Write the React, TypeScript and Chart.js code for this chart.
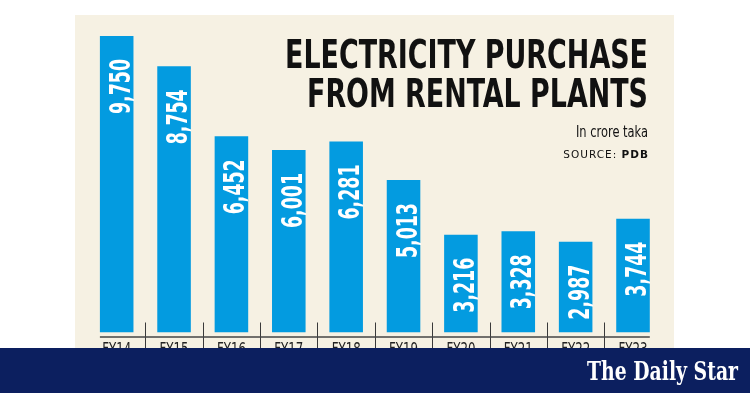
import React, { useEffect, useRef } from "react";
import { Chart, registerables } from "chart.js";

Chart.register(...registerables);

const categories = ["FY14", "FY15", "FY16", "FY17", "FY18", "FY19", "FY20", "FY21", "FY22", "FY23"];
const purchaseValues = [9750, 8754, 6452, 6001, 6281, 5013, 3216, 3328, 2987, 3744];
const titleLines = ["ELECTRICITY PURCHASE", "FROM RENTAL PLANTS"];
const unitText = "In crore taka";
const sourceLabel = "SOURCE: ";
const sourceName = "PDB";
const brandText = "The Daily Star";

const NARROW = '"Liberation Sans Narrow", "DejaVu Sans Condensed", "Roboto", sans-serif';

const decorPlugin = {
  id: "decor",
  beforeDraw(chart: any) {
    const ctx = chart.ctx;
    ctx.save();
    ctx.fillStyle = "#ffffff";
    ctx.fillRect(0, 0, chart.width, chart.height);
    ctx.fillStyle = "#f6f1e3";
    ctx.fillRect(75, 15, 599, 335);
    ctx.restore();
  },
  afterDatasetsDraw(chart: any) {
    const ctx = chart.ctx;
    const meta = chart.getDatasetMeta(0);
    const xs = chart.scales.x;
    const area = chart.chartArea;
    ctx.save();
    // value labels
    ctx.fillStyle = "#ffffff";
    ctx.font = `bold 29px ${NARROW}`;
    ctx.textAlign = "right";
    ctx.textBaseline = "alphabetic";
    meta.data.forEach((el: any, i: number) => {
      const txt = purchaseValues[i].toLocaleString("en-US");
      ctx.save();
      ctx.translate(el.x + 13, el.y + 23);
      ctx.rotate(-Math.PI / 2);
      ctx.fillText(txt, 0, 0, 55);
      ctx.restore();
    });
    // separators
    ctx.strokeStyle = "#3a3a3a";
    ctx.lineWidth = 1;
    for (let i = 0; i < categories.length - 1; i++) {
      const bx = Math.round((xs.getPixelForValue(i) + xs.getPixelForValue(i + 1)) / 2) + 0.5;
      ctx.beginPath();
      ctx.moveTo(bx, area.bottom - 10);
      ctx.lineTo(bx, area.bottom + 20);
      ctx.stroke();
    }
    // axis line
    const first = meta.data[0];
    const last = meta.data[meta.data.length - 1];
    ctx.strokeStyle = "#444";
    ctx.lineWidth = 1.5;
    ctx.beginPath();
    ctx.moveTo(first.x - first.width / 2, area.bottom + 4.5);
    ctx.lineTo(last.x + last.width / 2, area.bottom + 4.5);
    ctx.stroke();
    // category labels
    ctx.fillStyle = "#222";
    ctx.font = `17px ${NARROW}`;
    ctx.textAlign = "center";
    ctx.textBaseline = "top";
    categories.forEach((c, i) => {
      ctx.fillText(c, xs.getPixelForValue(i), area.bottom + 10, 29);
    });
    // title
    ctx.fillStyle = "#111";
    ctx.textAlign = "right";
    ctx.textBaseline = "alphabetic";
    ctx.font = `bold 39px ${NARROW}`;
    ctx.fillText(titleLines[0], 648, 68, 363);
    ctx.fillText(titleLines[1], 648, 107, 341);
    ctx.font = `15.5px ${NARROW}`;
    ctx.fillText(unitText, 648, 137, 72);
    ctx.font = `bold 10.5px "DejaVu Sans", sans-serif`;
    (ctx as any).letterSpacing = "1px";
    const pdbW = ctx.measureText(sourceName).width;
    ctx.fillText(sourceName, 649, 157.5);
    ctx.font = `10.5px "DejaVu Sans", sans-serif`;
    ctx.fillText(sourceLabel, 649 - pdbW, 157.5);
    (ctx as any).letterSpacing = "0px";
    ctx.restore();
  },
  afterDraw(chart: any) {
    const ctx = chart.ctx;
    ctx.save();
    ctx.fillStyle = "#0c1f5f";
    ctx.fillRect(0, 348, chart.width, chart.height - 348);
    ctx.fillStyle = "#ffffff";
    ctx.font = `bold 26px "DejaVu Serif", "Liberation Serif", serif`;
    ctx.textAlign = "right";
    ctx.textBaseline = "alphabetic";
    ctx.fillText(brandText, 738, 380, 151);
    ctx.restore();
  },
};

export default function App() {
  const ref = useRef<HTMLCanvasElement | null>(null);
  useEffect(() => {
    if (!ref.current) return;
    const chart = new Chart(ref.current, {
      type: "bar",
      data: {
        labels: categories,
        datasets: [
          {
            data: purchaseValues,
            backgroundColor: "#039be0",
            borderWidth: 0,
            categoryPercentage: 1,
            barPercentage: 0.585,
          },
        ],
      },
      options: {
        animation: false,
        responsive: false,
        layout: { padding: { left: 88, right: 88.3, top: 28.4, bottom: 60.5 } },
        plugins: { legend: { display: false }, tooltip: { enabled: false }, title: { display: false } },
        scales: {
          x: { display: false },
          y: { display: false, min: 0, max: 10000 },
        },
      },
      plugins: [decorPlugin],
    });
    return () => chart.destroy();
  }, []);
  return (
    <div style={{ position: "absolute", left: 0, top: 0, width: 750, height: 393 }}>
      <canvas ref={ref} width={750} height={393} style={{ display: "block", width: 750, height: 393 }} />
    </div>
  );
}
